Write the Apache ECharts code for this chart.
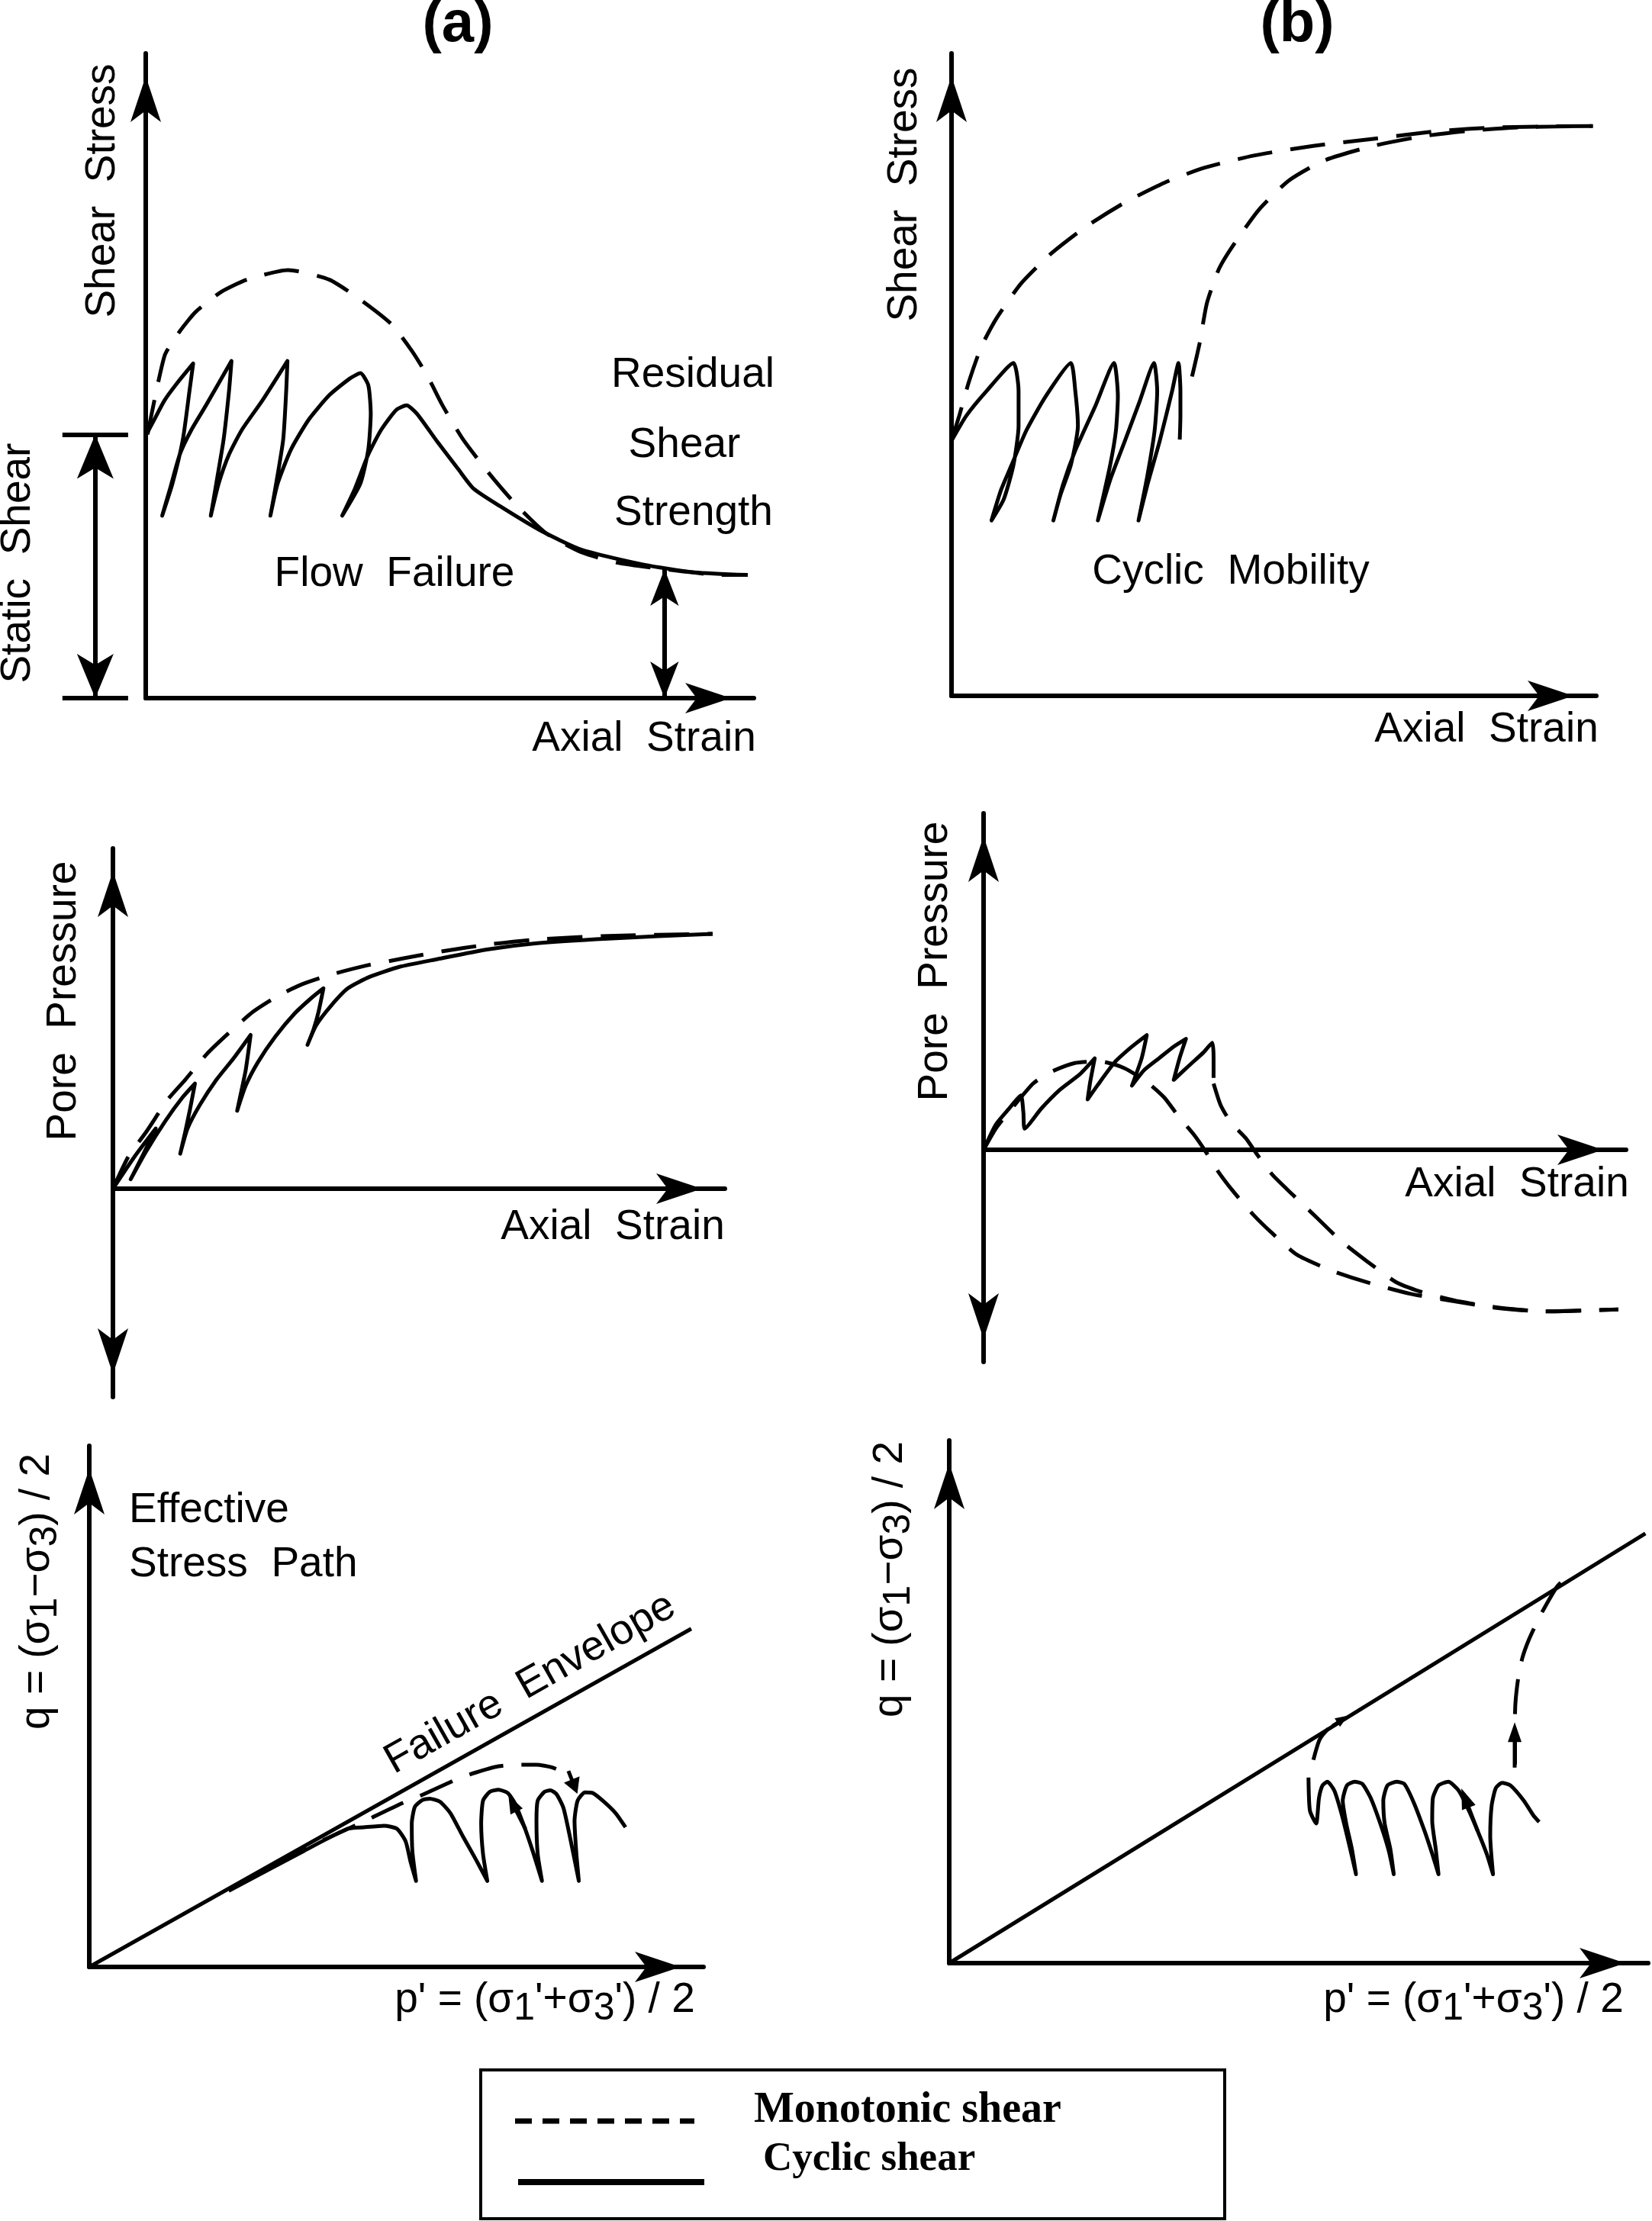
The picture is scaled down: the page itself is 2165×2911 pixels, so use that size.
<!DOCTYPE html>
<html>
<head>
<meta charset="utf-8">
<script src="https://cdn.jsdelivr.net/npm/echarts@6/dist/echarts.min.js"></script>
<style>html,body{margin:0;padding:0;background:#fff}#c{width:2165px;height:2911px}</style>
</head>
<body>
<div id="c"></div>
<script>
// ---------------- DATA (every axis runs 0–100 from origin to arrow tip) ----------------
// (a) top: shear stress vs axial strain
const a1Monotonic = [[0.3,40.9],[3.1,53.1],[5.6,56.9],[8.2,59.9],[12.4,63.0],[16.6,64.9],[23.4,66.4],[30.2,64.9],[35.3,61.8],[40.4,58.0],[43.8,53.8],[46.3,50.0],[48.8,45.4],[52.2,40.1],[56.5,34.8],[60.7,30.2],[65.8,25.6],[71.7,22.6],[77.6,21.0],[86.1,19.9],[94.6,19.1],[99,19.1]];
const a1Cyclic = [[0.1,40.9],[1.4,43.2],[3.1,46.2],[5.2,48.9],[7.8,51.9],[7.2,47.7],[6.1,40.1],[4.4,33.3],[2.7,28.3],[4.0,32.5],[5.6,37.8],[7.5,41.6],[9.9,45.4],[14.1,52.3],[13.7,47.7],[12.8,40.1],[11.6,33.3],[10.7,28.3],[12.0,33.3],[13.7,37.8],[15.8,41.6],[19.2,46.2],[23.3,52.3],[23.1,47.7],[22.6,40.1],[21.3,32.5],[20.5,28.3],[21.7,33.3],[23.9,38.6],[26.8,43.2],[30.2,47.0],[33.6,49.6],[35.3,50.4],[36.6,48.5],[37.0,44.1],[36.6,38.6],[35.3,33.3],[32.3,28.3],[34.4,32.5],[36.6,37.8],[38.7,41.6],[41.2,44.7],[42.9,45.4],[44.6,44.1],[48.0,39.7],[51.4,35.5],[53.9,32.5],[58.2,29.8],[64.9,26.0],[71.7,23.0],[81.9,20.7],[90.3,19.5],[99,19.1]];
const a1StaticShearLevel = [[-13.7,40.9],[-2.9,40.9]];
const a1ZeroLevel = [[-13.7,0],[-2.9,0]];
const a1StaticShearArrow = [[-8.3,0],[-8.3,40.9]];
const a1ResidualArrow = [[85.3,0],[85.3,20.0]];

// (b) top
const b1Monotonic = [[0,39.7],[1.2,43.6],[2.7,48.9],[4.6,54.3],[7.0,58.8],[10.8,64.2],[15.4,68.8],[20.8,73.0],[26.9,76.8],[33.1,79.9],[39.2,82.2],[46.9,84.1],[56.1,85.6],[65.4,86.7],[75.4,87.9],[84.6,88.5],[99.5,88.7]];
const b1PostCyclic = [[37.3,49.7],[38.5,55.0],[39.6,61.1],[41.5,66.5],[43.8,70.3],[47.7,75.7],[52.3,80.2],[57.7,83.3],[65.4,85.6],[73.1,87.1],[80.7,88.0],[88.4,88.5],[99.5,88.7]];
const b1Cyclic = [[0,39.7],[2.3,43.6],[5.4,47.4],[9.6,51.8],[10.4,47.4],[10.4,42.0],[9.6,35.9],[8.1,30.6],[6.2,27.3],[7.7,32.1],[9.3,35.9],[11.6,41.3],[14.6,46.6],[18.5,51.8],[19.2,47.4],[19.6,42.0],[18.5,35.9],[16.9,31.3],[15.8,27.3],[17.3,32.9],[19.2,38.2],[22.3,45.1],[25.2,51.8],[25.8,46.6],[25.5,41.3],[24.6,35.9],[22.7,27.3],[24.6,33.6],[26.9,39.7],[29.2,45.9],[31.4,51.8],[31.9,47.4],[31.5,41.3],[30.4,34.4],[29.0,27.3],[30.4,32.9],[32.3,39.7],[34.2,47.4],[35.2,51.8],[35.5,47.4],[35.5,43.6],[35.4,39.9]];

// (a) middle: pore pressure
const a2Monotonic = [[0,0],[2.6,9.7],[5.4,16.6],[9.0,26.3],[11.8,32.0],[15.3,39.5],[18.9,45.7],[22.9,52.0],[26.9,56.6],[30.8,60.0],[35.6,62.9],[41.2,65.5],[47.5,67.7],[53.9,69.8],[61.1,71.7],[69.0,73.2],[80.9,74.3],[98.0,74.9]];
const a2Cyclic = [[0,0],[3.4,9.1],[7.0,17.7],[5.0,10.3],[2.9,2.8],[5.4,10.9],[8.6,20.0],[11.4,26.9],[13.4,30.9],[12.6,23.4],[11.8,16.6],[11.0,10.3],[12.2,17.7],[14.2,24.6],[16.9,32.0],[19.7,38.3],[22.5,45.2],[21.7,34.9],[20.9,28.0],[20.3,22.9],[21.7,30.3],[23.7,37.2],[26.5,44.6],[29.7,51.5],[32.4,56.0],[34.4,58.9],[33.6,52.0],[32.8,46.9],[31.8,42.3],[33.2,48.0],[35.6,53.7],[38.4,58.9],[42.0,62.3],[46.8,65.2],[53.1,67.5],[61.1,70.3],[69.0,72.1],[80.9,73.5],[98.0,74.9]];

// (b) middle
const b2Monotonic = [[0,0],[1.9,6.3],[4.3,12.1],[7.7,19.7],[10.4,23.1],[14.2,25.8],[18.1,26.3],[21.9,24.3],[25.4,20.2],[28.1,15.6],[30.4,9.8],[32.7,4.6],[34.6,-0.6],[36.5,-6.4],[38.8,-12.2],[41.9,-19.1],[45.0,-24.9],[48.8,-31.2],[54.2,-35.9],[59.6,-39.3],[66.5,-42.8],[72.7,-44.8],[79.6,-46.9],[87.3,-48.0],[98.8,-47.4]];
const b2PostCyclic = [[35.8,19.7],[36.9,13.3],[38.5,8.1],[40.8,3.5],[42.7,-1.7],[45.0,-7.5],[48.1,-13.3],[51.9,-20.2],[55.7,-27.2],[59.6,-33.0],[64.2,-39.3],[68.1,-42.2],[74.2,-45.1],[80.3,-46.9],[87.3,-48.0],[98.8,-47.4]];
const b2Cyclic = [[0,0],[1.9,7.5],[3.9,12.1],[5.8,16.2],[6.2,11.0],[6.4,6.3],[8.9,12.1],[11.9,17.9],[15.0,22.5],[17.3,27.2],[16.6,20.2],[16.2,15.0],[17.7,19.1],[20.4,26.0],[23.1,30.7],[25.4,34.1],[24.6,27.2],[23.1,19.1],[25.0,23.7],[27.3,27.2],[29.6,30.7],[31.5,33.0],[30.5,27.2],[29.6,20.8],[31.9,24.9],[34.2,28.9],[35.6,31.8],[35.8,27.2],[35.8,21.4]];

// (a) bottom: effective stress path
const a3Envelope = [[0,0],[98.0,64.9]];
const a3Monotonic = [[22.7,14.8],[35,22.6],[44.5,27.8],[50.9,31.4],[53.6,32.7],[60.0,36.1],[62.9,37.3],[66.6,38.5],[69.9,38.8],[72.8,38.8],[75.3,38.3],[77.6,37.2]];
const a3Cyclic = [[22.7,14.6],[35,22.3],[42.0,26.5],[44.7,26.8],[48.0,27.1],[50.1,26.5],[51.5,24.1],[52.3,20.2],[53.2,16.5],[52.6,22.2],[52.5,27.5],[53.0,30.7],[54.2,32.0],[55.4,32.3],[57.1,31.7],[58.8,29.5],[60.8,25.1],[62.9,20.7],[64.8,16.5],[64.1,21.7],[63.8,27.5],[64.1,31.9],[65.2,33.6],[66.6,34.0],[68.1,33.4],[69.3,31.4],[70.8,27.0],[72.2,22.2],[73.7,16.5],[73.0,21.7],[72.8,28.0],[73.0,31.9],[74.1,33.6],[75.1,33.9],[76.1,33.1],[77.2,30.5],[78.4,24.1],[79.7,16.5],[79.3,21.7],[79.0,28.0],[79.5,31.9],[80.7,33.5],[81.9,33.4],[83.6,31.9],[85.7,29.5],[87.3,26.8]];
const a3MonotonicArrow = [[78.0,37.6],[79.0,34.6]];
const a3CyclicArrow = [[71.0,26.5],[68.9,31.4]];

// (b) bottom
const b3Envelope = [[0,0],[99.6,82.2]];
const b3Cyclic = [[51.4,35.5],[51.6,29.2],[52.5,26.7],[52.9,31.6],[53.4,34.0],[54.1,34.7],[55.1,33.0],[56.1,28.7],[57.2,22.8],[58.2,17.0],[57.6,21.9],[56.8,26.7],[56.3,31.1],[56.9,34.0],[58.0,34.7],[59.1,34.3],[60.3,31.6],[61.8,26.2],[62.9,21.4],[63.6,17.0],[63.1,21.9],[62.3,26.7],[62.1,31.1],[62.7,34.0],[64.0,34.7],[65.1,34.3],[66.5,30.6],[68.0,25.3],[69.1,20.9],[70.0,17.0],[69.6,21.9],[69.1,27.2],[69.2,31.6],[70.0,34.0],[71.4,34.7],[72.9,33.0],[74.2,29.6],[75.6,25.3],[76.9,20.9],[77.8,17.0],[77.4,24.3],[77.6,30.1],[78.2,33.5],[79.1,34.5],[80.3,34.0],[82.2,31.1],[83.6,28.2],[84.4,27.0]];
const b3MonotonicLeft = [[52.1,38.9],[53.0,42.8],[54.5,45.2],[56.1,46.4]];
const b3MonotonicRight = [[80.9,37.4],[80.9,43.7],[81.0,49.6],[81.4,54.5],[82.0,58.4],[82.9,61.8],[84.4,66.1],[85.8,69.5],[87.0,72.1],[88.9,74.7]];
const b3LeftArrow = [[54.8,45.4],[56.3,46.7]];
const b3RightArrow = [[80.9,38.0],[80.9,44.2]];
const b3CyclicArrow = [[75.6,25.3],[73.8,31.6]];

// legend entries
const legendNames = ['Monotonic shear', 'Cyclic shear'];

// ---------------- LAYOUT ----------------
const SANS = '"Liberation Sans"';
const SERIF = '"Liberation Serif"';
const DASH = [46, 24];
const panels = [
  {left:191,  top:70,   width:797, height:845, yMin:0,     yMax:100, both:false},
  {left:1247, top:70,   width:845, height:842, yMin:0,     yMax:100, both:false},
  {left:148,  top:1112, width:802, height:719, yMin:-61.2, yMax:100, both:true},
  {left:1289, top:1066, width:842, height:719, yMin:-63.0, yMax:100, both:true},
  {left:117,  top:1895, width:805, height:683, yMin:0,     yMax:100, both:false},
  {left:1244, top:1888, width:916, height:685, yMin:0,     yMax:100, both:false}
];
const AX = {color:'#000', width:6};
const grids = [], xAxes = [], yAxes = [];
panels.forEach(function (p, i) {
  grids.push({left:p.left, top:p.top, width:p.width, height:p.height, containLabel:false});
  xAxes.push({gridIndex:i, type:'value', min:0, max:100,
    axisLine:{show:true, onZero:true, lineStyle:AX, symbol:['none','arrow'], symbolSize:[30,60], symbolOffset:[0,-30]},
    axisTick:{show:false}, axisLabel:{show:false}, splitLine:{show:false}});
  yAxes.push({gridIndex:i, type:'value', min:p.yMin, max:p.yMax,
    axisLine:{show:true, onZero:true, lineStyle:AX, symbol:[p.both ? 'arrow' : 'none','arrow'], symbolSize:[30,60], symbolOffset:[30,-30]},
    axisTick:{show:false}, axisLabel:{show:false}, splitLine:{show:false}});
});

function curve(name, data, gi, dashed, smooth) {
  return {name:name, type:'line', xAxisIndex:gi, yAxisIndex:gi, data:data, showSymbol:false, symbol:'none',
    smooth: smooth === undefined ? 0.2 : smooth, clip:false, silent:true,
    lineStyle:{color:'#000', width:5, type: dashed ? DASH : 'solid', join:'round'}};
}
// size: [width, length] of the head, used at both ends
function seg(coords, gi, symbols, size, width) {
  return {type:'lines', coordinateSystem:'cartesian2d', xAxisIndex:gi, yAxisIndex:gi, clip:false, silent:true,
    symbol:symbols, symbolSize:[size, size],
    lineStyle:{color:'#000', width:width, opacity:1, curveness:0}, itemStyle:{color:'#000'},
    data:[{coords:coords}]};
}

const series = [
  curve(legendNames[0], a1Monotonic, 0, true),
  curve(legendNames[1], a1Cyclic, 0, false),
  seg(a1StaticShearLevel, 0, ['none','none'], [1,1], 6),
  seg(a1ZeroLevel, 0, ['none','none'], [1,1], 6),
  seg(a1StaticShearArrow, 0, ['arrow','arrow'], [36,58], 6),
  seg(a1ResidualArrow, 0, ['arrow','arrow'], [28,48], 6),

  curve(legendNames[0], b1Monotonic, 1, true),
  curve(legendNames[0], b1PostCyclic, 1, true),
  curve(legendNames[1], b1Cyclic, 1, false),

  curve(legendNames[0], a2Monotonic, 2, true),
  curve(legendNames[1], a2Cyclic, 2, false),

  curve(legendNames[0], b2Monotonic, 3, true),
  curve(legendNames[0], b2PostCyclic, 3, true),
  curve(legendNames[1], b2Cyclic, 3, false),

  curve('Failure Envelope', a3Envelope, 4, false, 0),
  curve(legendNames[0], a3Monotonic, 4, true),
  curve(legendNames[1], a3Cyclic, 4, false),
  seg(a3MonotonicArrow, 4, ['none','triangle'], [22,20], 5),
  seg(a3CyclicArrow, 4, ['none','triangle'], [18,24], 5),

  curve('Failure Envelope', b3Envelope, 5, false, 0),
  curve(legendNames[1], b3Cyclic, 5, false),
  curve(legendNames[0], b3MonotonicLeft, 5, true),
  curve(legendNames[0], b3MonotonicRight, 5, true),
  seg(b3LeftArrow, 5, ['none','triangle'], [13,17], 4),
  seg(b3RightArrow, 5, ['none','triangle'], [18,26], 5),
  seg(b3CyclicArrow, 5, ['none','triangle'], [19,27], 5)
];

// ---------------- TEXT ----------------
const SUB = {fontSize:50, fontFamily:SANS, fill:'#000', verticalAlign:'bottom'};
function label(text, x, y, opt) {
  opt = opt || {};
  const st = {
    text:text, fontSize:opt.size || 55, fontFamily:opt.family || SANS, fontWeight:opt.weight || 'normal', fill:'#000',
    textAlign:opt.align || 'center', align:opt.align || 'center', textVerticalAlign:'middle', verticalAlign:'middle'
  };
  if (opt.rich) { st.rich = {s: SUB}; st.lineHeight = 72; }
  return {type:'text', x:x, y:y, rotation:opt.rotation || 0, z:100, silent:true, style:st};
}
const UP = Math.PI / 2;
const qText = 'q = (σ{s|1}−σ{s|3}) / 2';
const pText = "p' = (σ{s|1}'+σ{s|3}') / 2";
const texts = [
  label('(a)', 600, 33, {size:76, weight:'bold'}),
  label('(b)', 1700, 33, {size:76, weight:'bold'}),
  label('Shear  Stress', 135, 250, {rotation:UP}),
  label('Static  Shear', 24, 738, {rotation:UP}),
  label('Residual', 908, 492),
  label('Shear', 897, 584),
  label('Strength', 909, 673),
  label('Flow  Failure', 517, 753),
  label('Axial  Strain', 844, 969),
  label('Shear  Stress', 1186, 255, {rotation:UP}),
  label('Cyclic  Mobility', 1613, 750),
  label('Axial  Strain', 1948, 957),
  label('Pore  Pressure', 84, 1312, {rotation:UP}),
  label('Axial  Strain', 803, 1609),
  label('Pore  Pressure', 1226, 1260, {rotation:UP}),
  label('Axial  Strain', 1988, 1553),
  label(qText, 49, 2086, {rotation:UP, rich:true}),
  label('Effective', 169, 1980, {align:'left'}),
  label('Stress  Path', 169, 2051, {align:'left'}),
  label('Failure  Envelope', 695, 2207, {rotation:0.515}),
  label(pText, 714, 2622, {rich:true}),
  label(qText, 1167, 2070, {rotation:UP, rich:true}),
  label(pText, 1931, 2622, {rich:true}),
  // legend
  {type:'rect', z:90, silent:true, shape:{x:630, y:2713, width:975, height:195}, style:{fill:'#fff', stroke:'#000', lineWidth:4}},
  {type:'line', z:100, silent:true, shape:{x1:675, y1:2780, x2:910, y2:2780}, style:{stroke:'#000', lineWidth:7, lineDash:[22,14], lineCap:'butt'}},
  {type:'line', z:100, silent:true, shape:{x1:679, y1:2860, x2:923, y2:2860}, style:{stroke:'#000', lineWidth:8}},
  label(legendNames[0], 988, 2767, {family:SERIF, weight:'bold', size:56, align:'left'}),
  label(legendNames[1], 1000, 2830, {family:SERIF, weight:'bold', size:53, align:'left'})
];

const chart = echarts.init(document.getElementById('c'), null, {renderer:'canvas', width:2165, height:2911});
chart.setOption({
  animation:false,
  backgroundColor:'#fff',
  grid:grids, xAxis:xAxes, yAxis:yAxes,
  series:series,
  graphic:{elements:texts}
});
</script>
</body>
</html>
